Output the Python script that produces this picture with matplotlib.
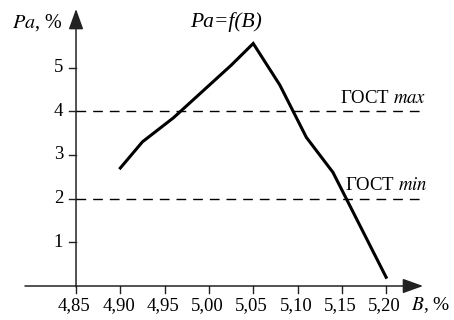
import matplotlib
matplotlib.use("Agg")
import matplotlib.pyplot as plt

# Data: Pa as a function of B
b_values = [4.90, 4.925, 4.96, 5.025, 5.05, 5.08, 5.11, 5.14, 5.175, 5.20]
pa_values = [2.7, 3.3, 3.85, 5.05, 5.55, 4.6, 3.4, 2.6, 1.2, 0.2]

x_ticks = [4.85, 4.90, 4.95, 5.00, 5.05, 5.10, 5.15, 5.20]
x_tick_labels = ["4,85", "4,90", "4,95", "5,00", "5,05", "5,10", "5,15", "5,20"]
y_ticks = [1, 2, 3, 4, 5]
y_tick_labels = ["1", "2", "3", "4", "5"]

gost_max = 4
gost_min = 2

FONT = "Liberation Serif"
plt.rcParams["mathtext.fontset"] = "stix"

fig = plt.figure(figsize=(4.54, 3.2), dpi=100)
ax = fig.add_axes([0, 0, 1, 1])
ax.set_xlim(4.7642, 5.2766)
ax.set_ylim(-0.778, 6.545)
ax.axis("off")

x0 = x_ticks[0]          # vertical axis position
x_end = 5.2417           # tip of the horizontal arrow
x_start = 4.7924
y_end = 6.34             # tip of the vertical arrow
axis_color = "#222222"

# Axes with arrow heads
arrow_kw = dict(arrowstyle="-|>,head_length=1.25,head_width=0.45",
                lw=1.1, color=axis_color, shrinkA=0, shrinkB=0, mutation_scale=10)
ax.annotate("", xy=(x_end, 0), xytext=(x_start, 0), arrowprops=arrow_kw)
ax.annotate("", xy=(x0, y_end), xytext=(x0, -0.02), arrowprops=arrow_kw)

# Ticks
tick_dx = 0.0075
tick_dy = 0.16
for xt, lab in zip(x_ticks, x_tick_labels):
    ax.plot([xt, xt], [0, -tick_dy], color=axis_color, lw=1.0)
    ax.text(xt - 0.002, -0.44, lab, ha="center", va="center", family=FONT, fontsize=13.5)
for yt, lab in zip(y_ticks, y_tick_labels):
    ax.plot([x0 - tick_dx, x0], [yt, yt], color=axis_color, lw=1.0)
    ax.text(x0 - 0.0145, yt, lab, ha="right", va="center", family=FONT, fontsize=13.5)

# Standard limits
dash = (0, (7.0, 5.0))
ax.plot([x0, 5.245], [gost_max, gost_max], color="black", lw=1.0, linestyle=dash)
ax.plot([x0, 5.245], [gost_min, gost_min], color="black", lw=1.0, linestyle=dash)
ax.text(5.245, gost_max + 0.1, r"ГОСТ $\mathit{max}$", ha="right", va="bottom",
        family=FONT, fontsize=13.5)
ax.text(5.247, gost_min + 0.1, r"ГОСТ $\mathit{min}$", ha="right", va="bottom",
        family=FONT, fontsize=13.5)

# Curve
ax.plot(b_values, pa_values, color="black", lw=2.2, solid_joinstyle="miter")

# Labels
ax.text(5.019, 6.03, "Pa=f(B)", ha="center", va="center", family=FONT,
        fontsize=15.5, style="italic")
ax.text(x0 - 0.0155, 6.03, r"$\mathit{Pa}$, %", ha="right", va="center",
        family=FONT, fontsize=14.5)
ax.text(5.2285, -0.44, r"$\mathit{B}$, %", ha="left", va="center",
        family=FONT, fontsize=14)

fig.savefig("out.png", dpi=100)
